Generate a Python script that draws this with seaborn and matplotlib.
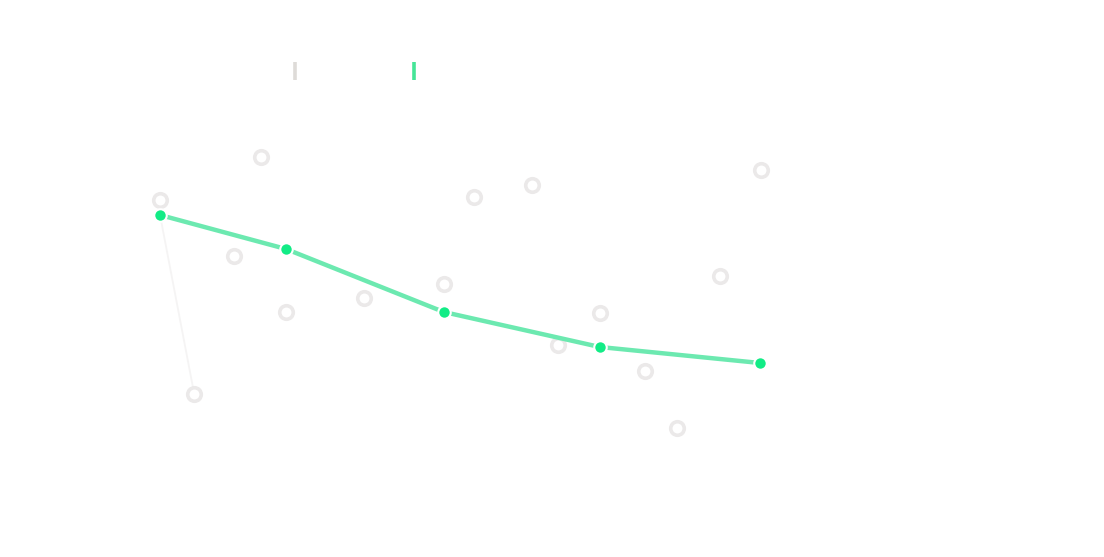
import matplotlib
matplotlib.use("Agg")
import matplotlib.pyplot as plt
from matplotlib.lines import Line2D
import seaborn as sns
import pandas as pd

# Scatter series (hollow grey circles)
scatter_x = [0, 16.8, 12.3, 21, 5.7, 34, 47.3, 52.3, 62, 66.3, 73.3, 80.8, 86.2, 93.3, 100.2]
scatter_y = [60, 68.6, 48.8, 37.6, 21.2, 40.4, 43.2, 60.6, 63, 31, 37.4, 25.8, 14.4, 44.8, 66]

# Line series (green)
line_x = [0, 21, 47.3, 73.3, 100]
line_y = [57, 50.2, 37.6, 30.6, 27.4]

# Faint connector
faint_x = [0, 5.7]
faint_y = [57, 21.2]

sns.set_theme(style="white")
fig = plt.figure(figsize=(11.04, 5.57), dpi=100)
ax = fig.add_axes([0, 0, 1, 1])
ax.set_xlim(-26.67, 157.33)
ax.set_ylim(-11.4, 100)
ax.axis("off")

ax.plot(faint_x, faint_y, color="#f5f4f4", lw=1.3, zorder=1)

df_s = pd.DataFrame({"x": scatter_x, "y": scatter_y})
sns.scatterplot(data=df_s, x="x", y="y", ax=ax, s=95, facecolor="white",
                edgecolor="#ebe9e9", linewidth=2.6, zorder=2, legend=False)

df_l = pd.DataFrame({"x": line_x, "y": line_y})
sns.lineplot(data=df_l, x="x", y="y", ax=ax, color="#6ce9b0", lw=3.2,
             marker="o", markersize=9, markerfacecolor="#12ec86",
             markeredgecolor="white", markeredgewidth=1.5, zorder=3, legend=False)

ax.set_xlabel("")
ax.set_ylabel("")

handles = [
    Line2D([], [], marker="|", linestyle="none", markersize=12.5, markeredgewidth=2.6, color="#dedbd8"),
    Line2D([], [], marker="|", linestyle="none", markersize=12.5, markeredgewidth=2.6, color="#45e597"),
]
fig.legend(handles, ["", ""], ncol=2, frameon=False, loc="center left",
           bbox_to_anchor=((294 - 7 - 5.6) / 1104, 1 - 72 / 557), borderaxespad=0,
           handlelength=1.0, handletextpad=0.8, columnspacing=5.98)

fig.savefig("out.png", dpi=100, facecolor="white")
